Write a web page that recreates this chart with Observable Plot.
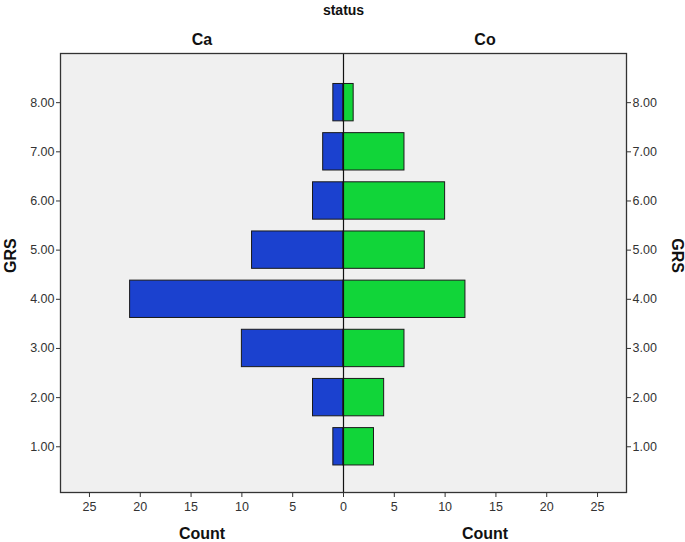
<!DOCTYPE html>
<html>
<head>
<meta charset="utf-8">
<script src="https://cdn.jsdelivr.net/npm/d3@7"></script>
<script src="https://cdn.jsdelivr.net/npm/@observablehq/plot@0.6"></script>
<style>
  body { margin: 0; background: #fff; }
  svg { display: block; }
</style>
</head>
<body>
<div id="chart"></div>
<script>
const grs = [1, 2, 3, 4, 5, 6, 7, 8];
const caCounts = [1, 3, 10, 21, 9, 3, 2, 1];
const coCounts = [3, 4, 6, 12, 8, 10, 6, 1];
const statusLabels = ["Ca", "Co"];
const xTicks = [-25, -20, -15, -10, -5, 0, 5, 10, 15, 20, 25];
const yTicks = [1, 2, 3, 4, 5, 6, 7, 8];

const rows = [];
grs.forEach((g, i) => {
  rows.push({status: "Ca", grs: g, count: caCounts[i], signed: -caCounts[i]});
  rows.push({status: "Co", grs: g, count: coCounts[i], signed: coCounts[i]});
});

const xMax = 27.85;
const half = 0.38;

const fontFam = "Liberation Sans, Arial, sans-serif";

const chart = Plot.plot({
  width: 685,
  height: 542,
  marginLeft: 60,
  marginRight: 59,
  marginTop: 53,
  marginBottom: 50,
  style: {fontFamily: fontFam, fontSize: "12px", color: "#333", background: "#fff"},
  x: {domain: [-xMax, xMax], ticks: xTicks, tickFormat: d => Math.abs(d), label: null, tickSize: 5, tickPadding: 4},
  y: {domain: [0.07, 9.0], ticks: yTicks, tickFormat: d => d.toFixed(2), label: null, tickSize: 4, tickPadding: 2},
  color: {domain: statusLabels, range: ["#1b41cf", "#11d539"]},
  marks: [
    Plot.frame({fill: "#f0f0f0", stroke: "none"}),
    Plot.rectX(rows, {
      x1: 0, x2: "signed",
      y1: d => d.grs - half, y2: d => d.grs + half,
      fill: "status", stroke: "#1a1a1a", strokeWidth: 1
    }),
    Plot.ruleX([0], {stroke: "#111", strokeWidth: 1.2}),
    Plot.frame({stroke: "#333", strokeWidth: 1.3}),
    Plot.axisX({ticks: xTicks, tickFormat: d => Math.abs(d), tickSize: 5, tickPadding: 5, label: null, fontSize: 12.5}),
    Plot.axisY({anchor: "left", ticks: yTicks, tickFormat: d => d.toFixed(2), tickSize: 4, tickPadding: 2, label: null, fontSize: 12.5}),
    Plot.axisY({anchor: "right", ticks: yTicks, tickFormat: d => d.toFixed(2), tickSize: 4, tickPadding: 2, label: null, fontSize: 12.5}),
    Plot.text(["status"], {frameAnchor: "top", dy: -48, fontWeight: "bold", fontSize: 14, fill: "#111"}),
    Plot.text(statusLabels, {x: d => d === "Ca" ? -xMax / 2 : xMax / 2, frameAnchor: "top", dy: -20, fontWeight: "bold", fontSize: 16, fill: "#111"}),
    Plot.text(statusLabels, {x: d => d === "Ca" ? -xMax / 2 : xMax / 2, text: () => "Count", frameAnchor: "bottom", dy: 46, fontWeight: "bold", fontSize: 16, fill: "#111"}),
    Plot.text(["GRS"], {frameAnchor: "left", dx: -50, rotate: -90, fontWeight: "bold", fontSize: 16, fill: "#111"}),
    Plot.text(["GRS"], {frameAnchor: "right", dx: 51, rotate: 90, fontWeight: "bold", fontSize: 16, fill: "#111"})
  ]
});
document.getElementById("chart").appendChild(chart);
</script>
</body>
</html>
